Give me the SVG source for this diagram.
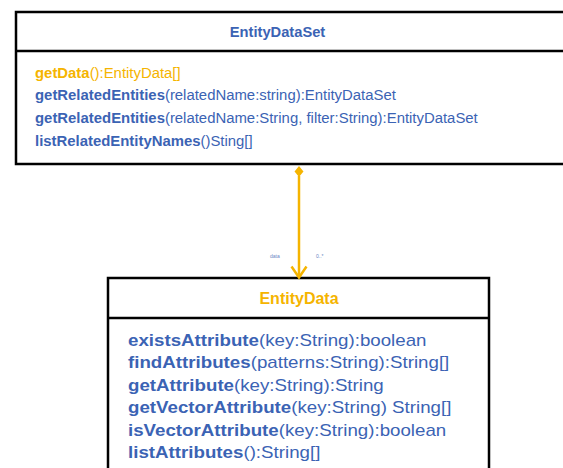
<svg xmlns="http://www.w3.org/2000/svg" width="563" height="468" viewBox="0 0 563 468">
<style>
.box{fill:#fff;stroke:#000;stroke-width:2.5}
.div{stroke:#000;stroke-width:2.5}
text{font-family:"Liberation Sans",Arial,sans-serif;fill:#3B63B4}
.b{font-weight:bold}
.o{fill:#F5B400}
.m1{font-size:14.9px}
.m2{font-size:16px}
.lbl{font-size:5px;fill:#6A86C4}
</style>
<rect width="563" height="468" fill="#fff"/>
<g id="EntityDataSet">
<rect class="box" x="16" y="12" width="580" height="152"/>
<line class="div" x1="16" y1="51" x2="596" y2="51"/>
<text class="b" x="277.5" y="37" text-anchor="middle" font-size="14.7">EntityDataSet</text>
<text class="m1 o" x="35" y="78"><tspan class="b o">getData</tspan>():EntityData[]</text>
<text class="m1" x="35" y="100"><tspan class="b">getRelatedEntities</tspan>(relatedName:string):EntityDataSet</text>
<text class="m1" x="35" y="122.5"><tspan class="b">getRelatedEntities</tspan>(relatedName:String, filter:String):EntityDataSet</text>
<text class="m1" x="35" y="145.5"><tspan class="b">listRelatedEntityNames</tspan>()Sting[]</text>
</g>
<g id="EntityData">
<rect class="box" x="108" y="278" width="381" height="200"/>
<line class="div" x1="108" y1="318" x2="489" y2="318"/>
<text class="b o" x="299" y="304" text-anchor="middle" font-size="16">EntityData</text>
<g transform="matrix(1.17 0 0 1 -21.76 0)">
<text class="m2" x="128" y="346"><tspan class="b">existsAttribute</tspan>(key:String):boolean</text>
<text class="m2" x="128" y="368.5"><tspan class="b">findAttributes</tspan>(patterns:String):String[]</text>
<text class="m2" x="128" y="391"><tspan class="b">getAttribute</tspan>(key:String):String</text>
<text class="m2" x="128" y="413.5"><tspan class="b">getVectorAttribute</tspan>(key:String) String[]</text>
<text class="m2" x="128" y="436"><tspan class="b">isVectorAttribute</tspan>(key:String):boolean</text>
<text class="m2" x="128" y="458.5"><tspan class="b">listAttributes</tspan>():String[]</text>
</g>
</g>
<g id="connectors">
<line x1="299" y1="176" x2="299" y2="277" stroke="#F5B400" stroke-width="2.5"/>
<polygon points="299,166 303.5,171.5 299,177 294.5,171.5" fill="#F5B400"/>
<polyline points="291.5,266.5 299,277.5 306.5,266.5" fill="none" stroke="#F5B400" stroke-width="2.5"/>
<text class="lbl" x="270" y="258">data</text>
<text class="lbl" x="316" y="258">0..*</text>
</g>
</svg>
